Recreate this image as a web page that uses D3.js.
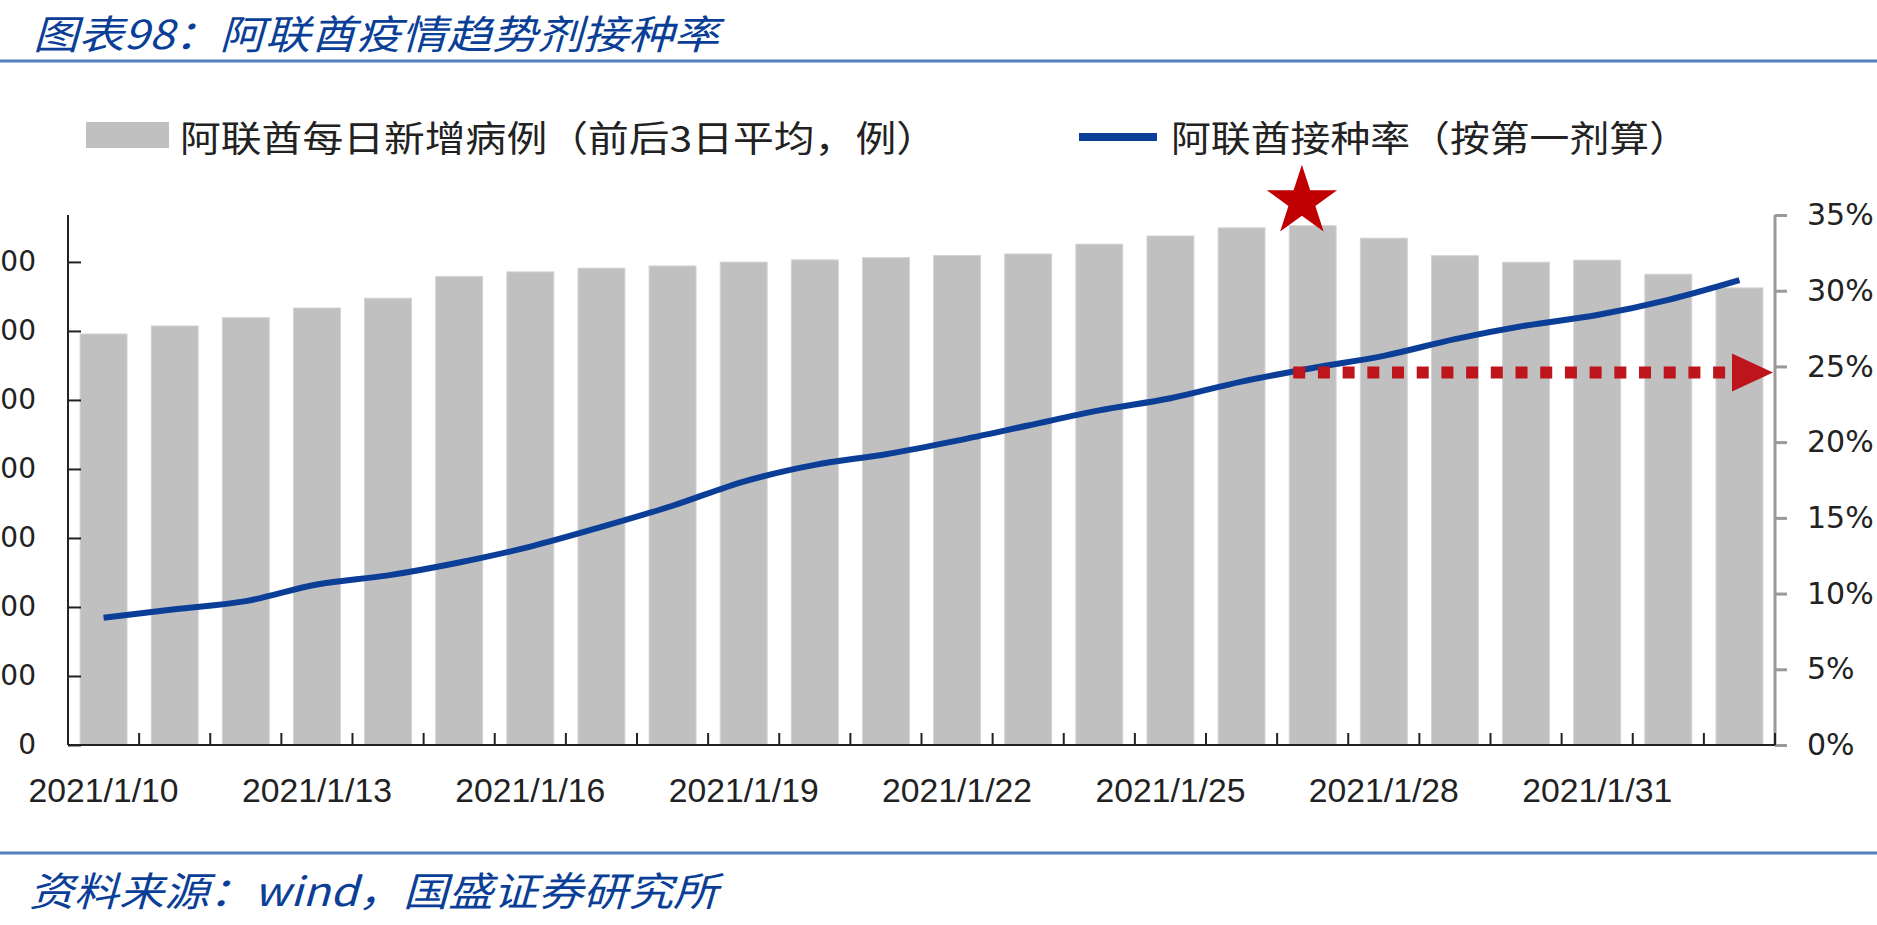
<!DOCTYPE html>
<html>
<head>
<meta charset="utf-8">
<script src="https://cdn.jsdelivr.net/npm/d3@7"></script>
<style>
  body { margin: 0; background: #fff; }
  svg { display: block; }
</style>
</head>
<body>
<div id="chart"></div>
<script>
// categories (dates) and series
var dates = ["2021/1/10", "2021/1/11", "2021/1/12", "2021/1/13", "2021/1/14", "2021/1/15",
             "2021/1/16", "2021/1/17", "2021/1/18", "2021/1/19", "2021/1/20", "2021/1/21",
             "2021/1/22", "2021/1/23", "2021/1/24", "2021/1/25", "2021/1/26", "2021/1/27",
             "2021/1/28", "2021/1/29", "2021/1/30", "2021/1/31", "2021/2/1", "2021/2/2"];

// 阿联酋每日新增病例（前后3日平均，例）
var dailyCases = [2978, 3036, 3096, 3166, 3237, 3395, 3428, 3455, 3471, 3499, 3515, 3531,
                  3547, 3558, 3629, 3688, 3747, 3763, 3672, 3545, 3498, 3513, 3411, 3312];

// 阿联酋接种率（按第一剂算）, %
var vaccRate = [8.41, 8.97, 9.5, 10.6, 11.2, 12.05, 13.1, 14.4, 15.8, 17.4, 18.5, 19.2,
                20.1, 21.1, 22.1, 22.9, 24.0, 24.9, 25.7, 26.8, 27.7, 28.4, 29.4, 30.7];

var leftTicks = [0, 500, 1000, 1500, 2000, 2500, 3000, 3500];
var rightTicks = [0, 0.05, 0.10, 0.15, 0.20, 0.25, 0.30, 0.35];
var xLabelDates = ["2021/1/10", "2021/1/13", "2021/1/16", "2021/1/19", "2021/1/22",
                   "2021/1/25", "2021/1/28", "2021/1/31"];

var peakDate = "2021/1/27";   // star + arrow start
var arrowLevel = 0.246;       // dotted arrow level (right axis)

var width = 1877, height = 925;
var margin = {top: 215, right: 102, bottom: 180, left: 68};

var svg = d3.select("#chart").append("svg")
    .attr("width", width)
    .attr("height", height)
    .style("font-family", "'DejaVu Sans', sans-serif");

var cjk = "'Noto Sans CJK SC', sans-serif";
var blue = "#0b3f97";

// title + rules
svg.append("text")
    .attr("x", 33).attr("y", 32)
    .attr("dominant-baseline", "central")
    .attr("textLength", 686).attr("lengthAdjust", "spacingAndGlyphs")
    .style("font-family", cjk).style("font-style", "italic")
    .style("font-size", "40px").style("fill", blue)
    .text("图表98：阿联酋疫情趋势剂接种率");

svg.append("line")
    .attr("x1", 0).attr("x2", width).attr("y1", 61).attr("y2", 61)
    .style("stroke", "#4f81bd").style("stroke-width", 3);

svg.append("line")
    .attr("x1", 0).attr("x2", width).attr("y1", 853).attr("y2", 853)
    .style("stroke", "#4f81bd").style("stroke-width", 3);

svg.append("text")
    .attr("x", 29).attr("y", 889)
    .attr("dominant-baseline", "central")
    .attr("textLength", 689).attr("lengthAdjust", "spacingAndGlyphs")
    .style("font-family", cjk).style("font-style", "italic")
    .style("font-size", "40px").style("fill", blue)
    .text("资料来源：wind，国盛证券研究所");

// scales
var x = d3.scaleBand()
    .domain(dates)
    .range([margin.left, width - margin.right])
    .paddingInner(0.34)
    .paddingOuter(0.17);

var yL = d3.scaleLinear()
    .domain([0, 3840])
    .range([height - margin.bottom, margin.top]);

var yR = d3.scaleLinear()
    .domain([0, 0.35])
    .range([height - margin.bottom, margin.top]);

var bw = x.bandwidth();

// bars
svg.append("g")
    .attr("class", "bars")
    .selectAll("rect")
    .data(dates)
    .enter().append("rect")
      .attr("x", function(d) { return x(d); })
      .attr("y", function(d, i) { return yL(dailyCases[i]); })
      .attr("width", bw)
      .attr("height", function(d, i) { return yL(0) - yL(dailyCases[i]); })
      .style("fill", "#c0c0c0")
      .style("stroke", "#d4d4d4")
      .style("stroke-width", 1);

// left axis
var gL = svg.append("g")
    .attr("transform", "translate(" + margin.left + ",0)")
    .call(d3.axisLeft(yL).tickValues(leftTicks).tickSize(-13).tickPadding(32)
            .tickFormat(d3.format("d")));
gL.select(".domain").attr("d", "M0," + yL.range()[1] + "V" + yL.range()[0])
    .style("stroke", "#222").style("stroke-width", 2);
gL.selectAll(".tick line").style("stroke", "#222").style("stroke-width", 2);
gL.selectAll(".tick text").style("font-size", "28px").style("fill", "#222")
    .style("font-family", "'DejaVu Sans', sans-serif");

// right axis
var xr = width - margin.right;
var gR = svg.append("g")
    .attr("transform", "translate(" + xr + ",0)")
    .call(d3.axisRight(yR).tickValues(rightTicks).tickSize(12).tickPadding(20)
            .tickFormat(d3.format(".0%")));
gR.select(".domain").attr("d", "M0," + yR.range()[1] + "V" + yR.range()[0])
    .style("stroke", "#999").style("stroke-width", 3);
gR.selectAll(".tick line").style("stroke", "#999").style("stroke-width", 3);
gR.selectAll(".tick text").style("font-size", "30px").style("fill", "#222")
    .style("font-family", "'DejaVu Sans', sans-serif");

// bottom axis (labels every 3rd day, ticks on category boundaries)
var gB = svg.append("g")
    .attr("transform", "translate(0," + yL(0) + ")")
    .call(d3.axisBottom(x).tickValues(xLabelDates).tickSize(0).tickPadding(33));
gB.select(".domain").attr("d", "M" + margin.left + ",0H" + xr)
    .style("stroke", "#222").style("stroke-width", 2);
gB.selectAll(".tick text")
    .style("font-family", "'Liberation Sans Narrow', 'Liberation Sans', sans-serif")
    .style("font-size", "34px").style("fill", "#222")
    .attr("textLength", 150).attr("lengthAdjust", "spacingAndGlyphs");

var gap = (x.step() - bw) / 2;
var bounds = dates.map(function(d) { return x(d) - gap; }).concat([x(dates[dates.length - 1]) + bw + gap]);
gB.append("g").selectAll("line")
    .data(bounds)
    .enter().append("line")
      .attr("x1", function(d) { return d; })
      .attr("x2", function(d) { return d; })
      .attr("y1", 0).attr("y2", -12)
      .style("stroke", "#222").style("stroke-width", 2);

// vaccination line
var line = d3.line()
    .x(function(d) { return x(d) + bw / 2; })
    .y(function(d, i) { return yR(vaccRate[i] / 100); })
    .curve(d3.curveMonotoneX);

svg.append("path")
    .datum(dates)
    .attr("d", line)
    .style("fill", "none")
    .style("stroke", blue)
    .style("stroke-width", 6);

// dotted red arrow
var red = "#be141c";
var ay = yR(arrowLevel);
var tip = xr - 2;
svg.append("line")
    .attr("x1", x(peakDate) + 4).attr("x2", tip - 40)
    .attr("y1", ay).attr("y2", ay)
    .style("stroke", red).style("stroke-width", 12)
    .style("stroke-dasharray", "12 12.7");
svg.append("path")
    .attr("d", "M" + tip + "," + ay + "L" + (tip - 41) + "," + (ay - 19) + "L" + (tip - 41) + "," + (ay + 19) + "Z")
    .style("fill", red);

// star above peak bar
var peakIdx = dates.indexOf(peakDate);
var sx = x(peakDate) + bw * 0.27, sy = yL(dailyCases[peakIdx]) - 24;
var R = 37, r = R * 0.382;
var starPts = d3.range(10).map(function(k) {
  var a = -Math.PI / 2 + k * Math.PI / 5, rad = k % 2 ? r : R;
  return [sx + rad * Math.cos(a), sy + rad * Math.sin(a)];
});
svg.append("polygon")
    .attr("points", starPts.map(function(p) { return p.join(","); }).join(" "))
    .style("fill", "#c00000");

// legend
var leg = svg.append("g").attr("class", "legend");
leg.append("rect")
    .attr("x", 86).attr("y", 122).attr("width", 83).attr("height", 26)
    .style("fill", "#c0c0c0");
leg.append("text")
    .attr("x", 180).attr("y", 136).attr("dominant-baseline", "central")
    .attr("textLength", 757).attr("lengthAdjust", "spacingAndGlyphs")
    .style("font-family", cjk).style("font-size", "36px").style("fill", "#222")
    .text("阿联酋每日新增病例（前后3日平均，例）");
leg.append("line")
    .attr("x1", 1079).attr("x2", 1157).attr("y1", 137).attr("y2", 137)
    .style("stroke", blue).style("stroke-width", 8);
leg.append("text")
    .attr("x", 1171).attr("y", 136).attr("dominant-baseline", "central")
    .attr("textLength", 518).attr("lengthAdjust", "spacingAndGlyphs")
    .style("font-family", cjk).style("font-size", "36px").style("fill", "#222")
    .text("阿联酋接种率（按第一剂算）");
</script>
</body>
</html>
